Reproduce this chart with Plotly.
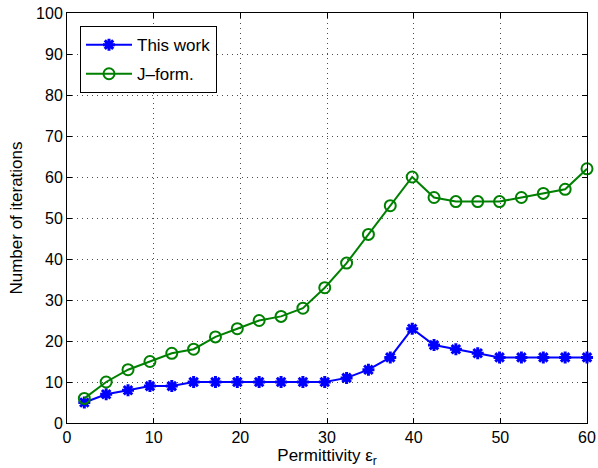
import plotly.graph_objects as go

permittivity = [2.0, 4.52, 7.04, 9.57, 12.09, 14.61, 17.13, 19.65, 22.17, 24.70, 27.22, 29.74,
                32.26, 34.78, 37.30, 39.83, 42.35, 44.87, 47.39, 49.91, 52.43, 54.96, 57.48, 60.0]
this_work = [5, 7, 8, 9, 9, 10, 10, 10, 10, 10, 10, 10, 11, 13, 16, 23, 19, 18, 17, 16, 16, 16, 16, 16]
j_form = [6, 10, 13, 15, 17, 18, 21, 23, 25, 26, 28, 33, 39, 46, 53, 60, 55, 54, 54, 54, 55, 56, 57, 62]

fig = go.Figure()
fig.add_trace(go.Scatter(
    x=permittivity, y=this_work, name="This work", mode="lines+markers",
    line=dict(color="rgb(0,0,255)", width=2),
    marker=dict(symbol="asterisk-open", size=10, line=dict(color="rgb(0,0,255)", width=3)),
    legendgroup="a", cliponaxis=False))
fig.add_trace(go.Scatter(
    x=permittivity, y=j_form, name="J\u2013form.", mode="lines+markers",
    line=dict(color="rgb(0,128,0)", width=2),
    marker=dict(symbol="circle-open", size=11, line=dict(color="rgb(0,128,0)", width=2)),
    legendgroup="b", cliponaxis=False))

font = "Liberation Sans, Arial, sans-serif"
axis_common = dict(
    showline=True, linecolor="black", linewidth=1, mirror="ticks",
    ticks="inside", ticklen=5, tickcolor="black",
    showgrid=True, gridcolor="rgba(0,0,0,0.7)", griddash="1px,4px", gridwidth=1,
    zeroline=False, tickfont=dict(family=font, size=16, color="black"),
    automargin=False,
)
fig.update_layout(
    width=598, height=468,
    margin=dict(l=67, r=11, t=13, b=45),
    paper_bgcolor="white", plot_bgcolor="white",
    font=dict(family=font, size=16, color="black"),
    xaxis=dict(range=[0, 60], tickvals=[0, 10, 20, 30, 40, 50, 60],
               title=dict(text="Permittivity \u03b5<sub>r</sub>", standoff=0,
                          font=dict(family=font, size=17)),
               **axis_common),
    yaxis=dict(range=[0, 100], tickvals=list(range(0, 101, 10)),
               title=dict(text="Number of iterations", standoff=9,
                          font=dict(family=font, size=17)),
               **axis_common),
    legend=dict(x=0.025, y=0.968, xanchor="left", yanchor="top",
                bordercolor="black", borderwidth=1, bgcolor="white",
                traceorder="grouped", tracegroupgap=4, itemwidth=46,
                font=dict(family=font, size=17)),
    showlegend=True,
)
fig.write_html("out.html")
